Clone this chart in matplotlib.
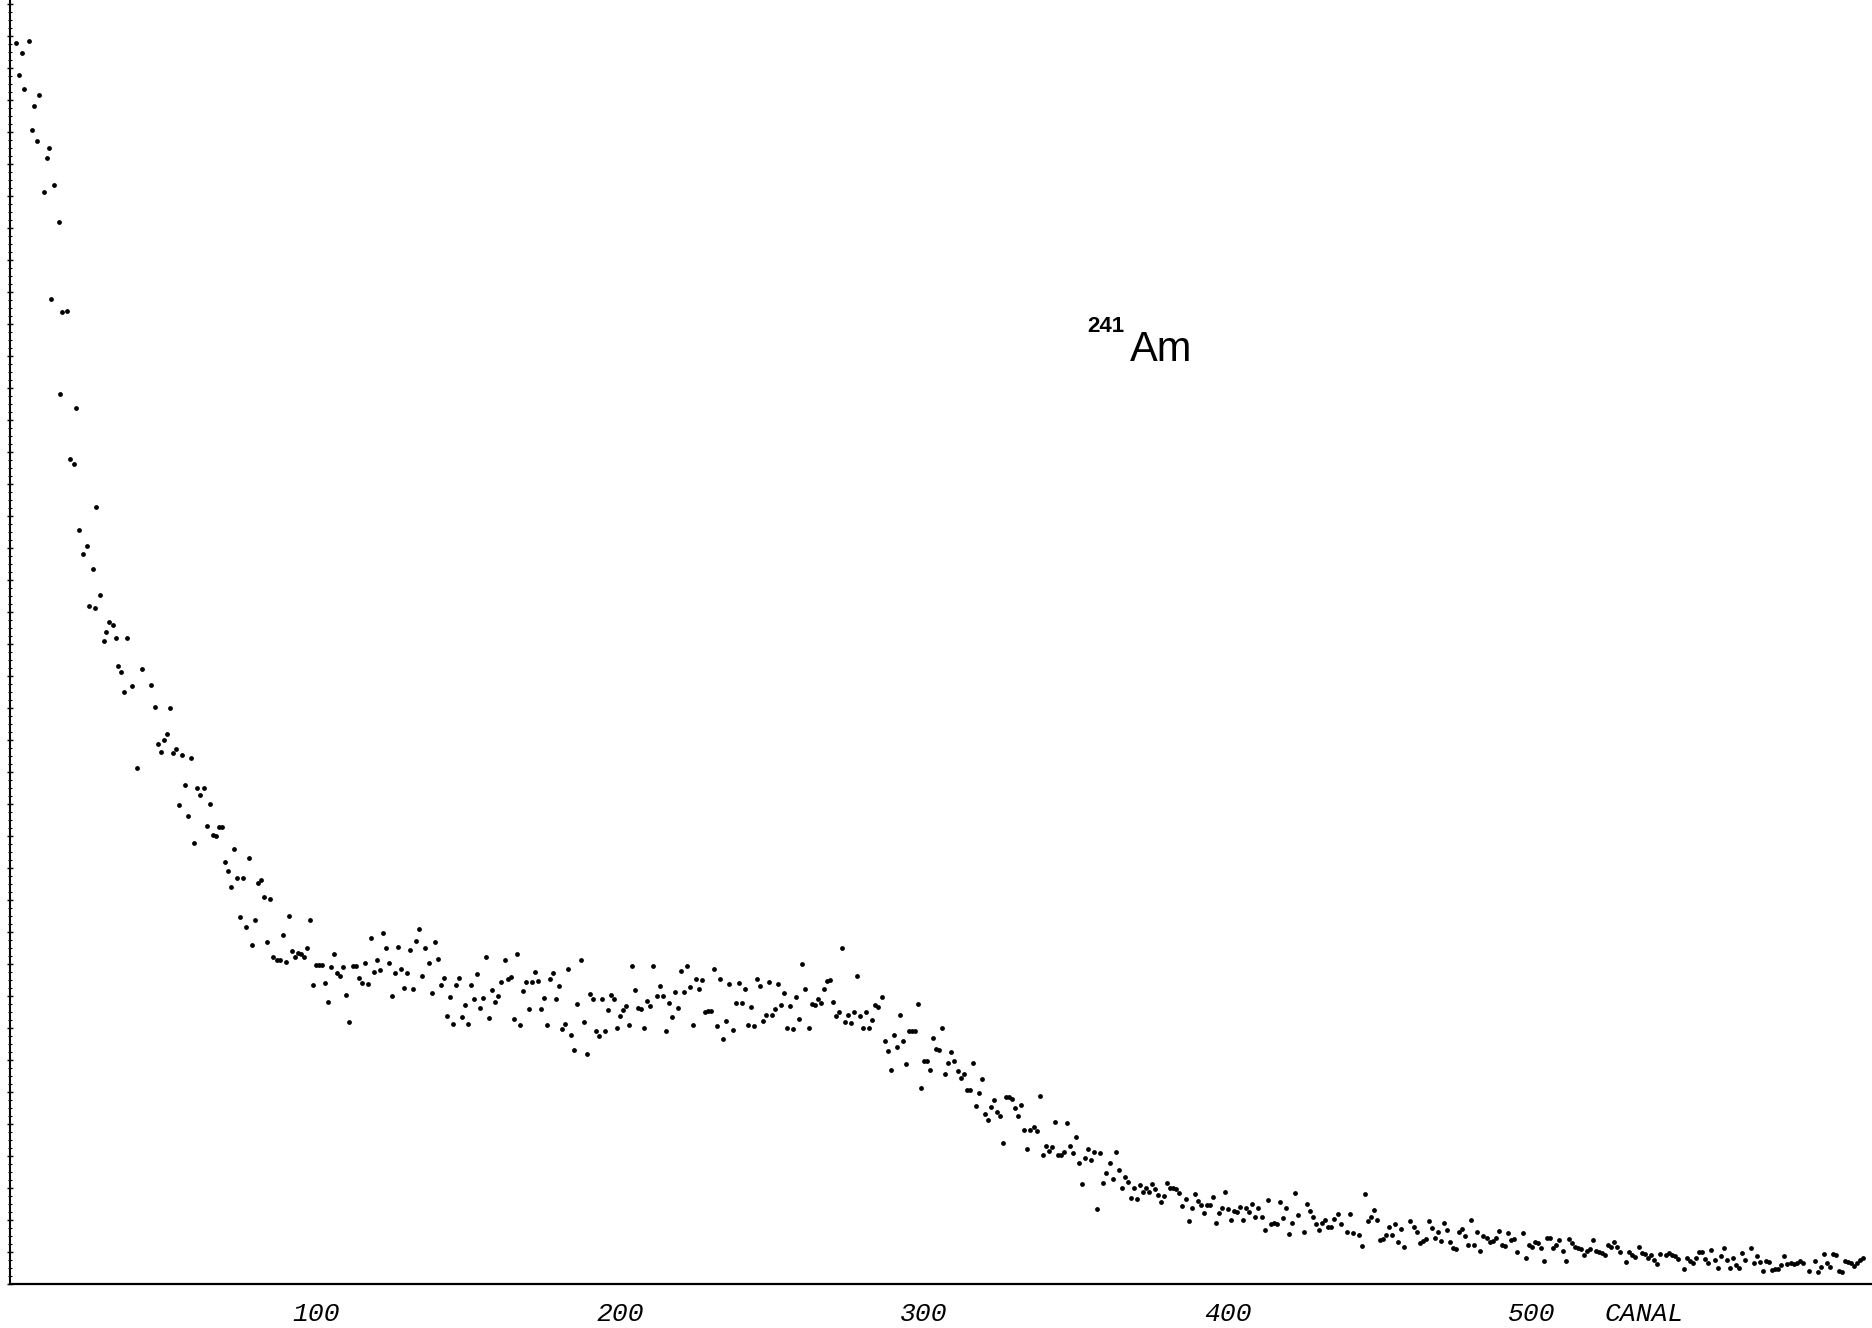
import matplotlib
matplotlib.use('Agg')
import matplotlib.pyplot as plt
import numpy as np
from matplotlib.ticker import MultipleLocator

# espectro 241Am, cuentas en unidades arbitrarias (sin escala en y)

# primeros canales (zona de caida rapida), canal
canal_inicio = [1.3, 2.3, 3.3, 3.9, 5.6, 6.6, 7.2, 8.2, 8.9, 10.5,
                11.5, 12.2, 12.8, 13.8, 15.5, 15.8, 16.4, 18.1, 19.1, 20.4,
                21.1, 22.0, 23.4, 24.7, 25.3, 26.6, 27.3, 27.6, 28.9, 30.3,
                30.9, 31.9, 33.2, 34.2, 34.9, 35.9, 36.8, 37.8, 39.5, 41.2,
                42.8, 45.7]
cuentas_inicio = [1241, 1209, 1231, 1195, 1243, 1154, 1178, 1143, 1189, 1092,
                  1126, 1136, 985, 1099, 1062, 890, 972, 973, 825, 820,
                  876, 754, 730, 738, 678, 715, 676, 777, 689, 643,
                  652, 662, 659, 646, 618, 612, 592, 646, 598, 516,
                  615, 599]

# a partir del canal 47, un valor por canal (None = punto no visible)
primer_canal = 47
cuentas_a = [577, 540, 532, 544, 550, 576, 531, 535, 479, 529,
             499, 468, 526, 441, 496, 489, 496, 458, 480, 449,
             448, 457, 457, 422, 413, 397, 435, 406, 367, 406,
             357, 426, 339, 364, 401, 404, 387, 342, 385, 327,
             324, 324, 349, 322, 368, 333, 327, 331, 330, 327,
             336, 364, 299, 319, 319, 319, 301, 282, 317, 330,
             311, 308, 317, 289, 262, 318, 318, 306, 301, 321,
             300, 346, 312, 324]
cuentas_b = [314, 351, 336, 321, 288, 311, 337, 315, 296, 311,
             334, 295, 343, 355, 308, 336, 321, 291, 342, 325,
             299, 306, 268, 287, 260, 299, 306, 267, 279, 260,
             299, 285, 310, 276, 286, 327, 266, 294, 282, 288,
             302, 324, 305, 307, 265, 330, 259, 293, 302, 275,
             302, 312, 303, 275, 286, 259, 305, 311, 285, 298,
             255, 260, 315, 249, 234, 280, 324, 262, 230, 290,
             285, 253, 248, 285, 253, 274, 289, 285, 256, 268,
             274, 278, 259, 318, 294, 276, 275, 256, 283, 278,
             318, 288, 298, 288, 253, 281, 267, 292, 276, 313,
             292, 318, 297, 259, 305]
cuentas_c = [295, 304, 272, 273, 273, 315, 258, 305, 245, 263,
             300, 254, 281, 301, 281, 295, 259, 277, 258, 305,
             298, 263, 269, 302, 269, 275, 300, 279, 291, 256,
             278, 255, 287, 265, 320, 295, 256, 280, 279, 285,
             281, 295, 303, 304, 282, 268, 272, 336, 262, 269,
             261, 272, 308, 268, 256, 272, 256, 264, 279, 277,
             287, 243, 233, 214, 249, 237, 269, 243, 220, 253,
             253, 253, 280, 196, 223, 223, 214, 246, 235, 234,
             256, 210, 221, 232, 223, 213, 206, 210, 194, 194,
             221, 178, 191, 205, 170, 164, 177, 184, 172]
cuentas_d = [168, 141, 187, 187, 185, 176, 168, 179, 154, 135,
             154, 157, 153, 188, 129, 138, 133, 137, 162, 129,
             129, 132, 161, 138, 131, 147, 121, 100, 126, 135,
             124, 132, 75, 131, 101, 111, 121, 105, 132, 114,
             96, 107, 102, 86, 96, 85, 99, 92, 96, 92,
             100, 95, 89, 82, 88, 101, 96, 96, 95, 91,
             78, 85, 63, 76, 90, 83, 79, 71, 79, 79,
             87, 61, 71, 76, 92, 75, 64, 73, 72, 77,
             64, 76, 72, 80, 67, 76, 67, 54, 84, 60,
             61, 60, 82, 66, 76, 50, 61, 91, 69]
cuentas_e = [None, 52, 80, 73, 67, 60, 54, 61, 64, 57, 57, 65, 70, 60, None,
             52, 70, 51, None, 49, 38, 90, 63, 67, 74, 64, 44, 45, 49, 57,
             49, 60, 42, 55, 37, None, 63, 57, 52, 41, 43, 45, 63, 56, 46,
             52, 43, 61, 54, 42, 36, 35, 52, 55, 48, 39, 64, 39, 52, 33,
             48, 46, 42, 43, 46, 53, 39, 38, 51, 44, 45, 32, None, 51, 26,
             39, 37, 42, 41, 36, 23, 46, 46, 36, 39, 44, 33, 23, 45, 41,
             37, 36, 35, 29, 33, 35, 44, 33, 32, 31, 29, 39, 37, 42, 37,
             32, None, 22, 32, 29, 27, 37, 31, 30, 26, 29, 24, 20, 30, None,
             29, 31, 29, 28, 25, None, 15, 26, 23, 21, 26, 32, 32, 25, 21,
             34, 24, 16, 28, 36, 24, 16, 26, 19, 16, 31, 24, None, 36, 21,
             28, 22, 13, 23, 22, 14, 15, 15, 19, 28, 20, 21, 20, 21, 23,
             21, None, 13, None, 23, 12, 17, 30, 21, 17, 30, 29, 13, 12, 23,
             22, 21, 18, 21, 24, 26]

marcas_x = [100, 200, 300, 400, 500]


def main():
    cuentas = np.array(cuentas_a + cuentas_b + cuentas_c + cuentas_d + cuentas_e, dtype=float)
    canal = np.arange(primer_canal, primer_canal + len(cuentas))

    fig = plt.figure(figsize=(18.72, 13.28), dpi=100)
    ax = fig.add_axes([10 / 1872, 44 / 1328, 1 - 10 / 1872, 1284 / 1328])

    ax.scatter(canal_inicio, cuentas_inicio, s=12, c='black', linewidths=0)
    ax.scatter(canal, cuentas, s=12, c='black', linewidths=0)

    ax.set_xlim(-0.66, 611.8)
    ax.set_ylim(0, 1284)

    for lado in ['top', 'right']:
        ax.spines[lado].set_visible(False)
    ax.spines['left'].set_linewidth(1.5)
    ax.spines['bottom'].set_linewidth(1.6)

    # rayitas del eje vertical, sin numeros
    ax.yaxis.set_major_locator(MultipleLocator(32))
    ax.yaxis.set_minor_locator(MultipleLocator(8))
    ax.tick_params(axis='y', which='major', direction='inout', length=5, width=1, labelleft=False)
    ax.tick_params(axis='y', which='minor', direction='inout', length=2.5, width=0.8)

    ax.set_xticks(marcas_x)
    ax.set_xticklabels([str(m) for m in marcas_x])
    ax.tick_params(axis='x', length=0, pad=13)
    for t in ax.get_xticklabels():
        t.set_fontfamily('Liberation Mono')
        t.set_fontstyle('italic')
        t.set_fontsize(19)

    ax.annotate('CANAL', xy=(537, 0), xycoords=('data', 'axes fraction'),
                xytext=(0, -13), textcoords='offset points', ha='center', va='top',
                fontfamily='Liberation Mono', fontstyle='italic', fontsize=19)

    ax.text(353.6, 952, '241', fontfamily='Liberation Sans', fontweight='bold',
            fontsize=16, va='baseline', ha='left')
    ax.text(367.8, 923, 'Am', fontfamily='Liberation Sans', fontsize=30,
            va='baseline', ha='left')

    fig.savefig('out.png', dpi=100)


if __name__ == '__main__':
    main()
